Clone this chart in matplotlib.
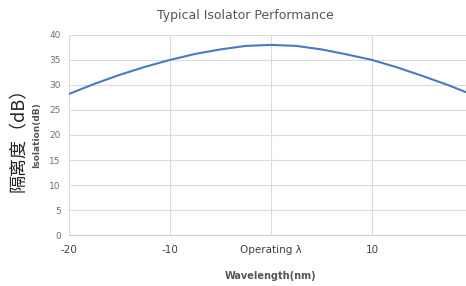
import matplotlib
matplotlib.use("Agg")
import matplotlib.pyplot as plt

# Isolation vs. wavelength offset from operating wavelength
wavelength = [-20, -17.5, -15, -12.5, -10, -7.5, -5, -2.5, 0,
              2.5, 5, 7.5, 10, 12.5, 15, 17.5, 20]
isolation = [28.2, 30.2, 32.0, 33.6, 35.0, 36.2, 37.1, 37.8, 38.0,
             37.8, 37.1, 36.1, 35.0, 33.5, 31.8, 30.0, 28.0]
x_ticks = [-20, -10, 0, 10, 20]
x_ticklabels = ['-20', '-10', 'Operating λ', '10', '20']
y_ticks = [0, 5, 10, 15, 20, 25, 30, 35, 40]

fig = plt.figure(figsize=(4.66, 2.86), dpi=100)
ax = fig.add_axes([0.148, 0.178, 0.867, 0.70])

ax.plot(wavelength, isolation, color='#4a7ac4', lw=1.5, zorder=3)

ax.set_xlim(-20, 20)
ax.set_ylim(0, 40)
ax.set_xticks(x_ticks)
ax.set_xticklabels(x_ticklabels, fontsize=7.5, color='#404040')
ax.set_yticks(y_ticks)
ax.tick_params(axis='y', labelsize=6.5, labelcolor='#707070', length=0, pad=6)
ax.tick_params(axis='x', length=0, pad=7)
ax.grid(True, color='#dcdcdc', lw=0.8)
for side in ['top', 'right', 'left']:
    ax.spines[side].set_visible(False)
ax.spines['bottom'].set_color('#d0d0d0')

# title sits left of the axes centre, as in the source image
fig.text(0.526, 0.945, 'Typical Isolator Performance', fontsize=9,
         color='#555555', ha='center', va='center')
ax.set_xlabel('Wavelength(nm)', fontsize=7, color='#555555',
              fontweight='bold', labelpad=12)
ax.set_ylabel('Isolation(dB)', fontsize=6.5, color='#555555',
              fontweight='bold', labelpad=6)

fig.text(0.04, 0.525, '隔离度（dB）', rotation=90, fontsize=13,
         ha='center', va='center', color='#222222',
         family=['Noto Sans CJK SC', 'DejaVu Sans'])

fig.savefig('out.png', dpi=100)
